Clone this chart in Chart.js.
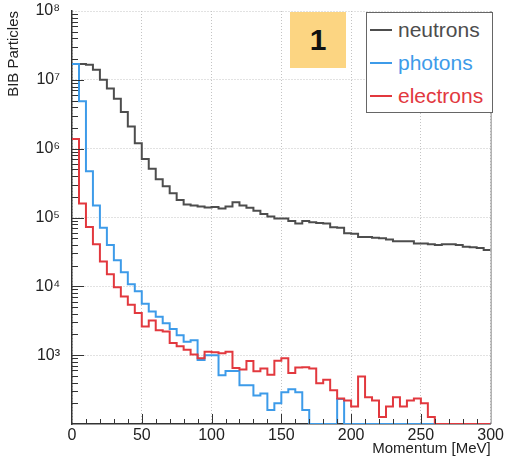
<!DOCTYPE html>
<html>
<head>
<meta charset="utf-8">
<script src="https://cdn.jsdelivr.net/npm/chart.js@4.4.1/dist/chart.umd.min.js"></script>
<style>
  body { margin: 0; background: #fff; }
  #wrap { position: relative; width: 506px; height: 458px; font-family: "Liberation Sans", Arial, sans-serif; }
  #tag { position: absolute; left: 290px; top: 12px; width: 56px; height: 56px; background: #fcd582;
         font-weight: bold; font-size: 30px; color: #111; display: flex; align-items: center; justify-content: center; }
  #legend { position: absolute; left: 366px; top: 12px; width: 127px; height: 101px; box-sizing: border-box;
            border: 1px solid #666; background: #fff; }
  .row { height: 33px; display: flex; align-items: center; padding-left: 3px; font-size: 21px; }
  .swatch { width: 22px; height: 2px; margin-right: 6px; }
</style>
</head>
<body>
<div id="wrap">
  <canvas id="myChart" width="506" height="458"></canvas>
  <div id="tag">1</div>
  <div id="legend"></div>
</div>
<script>
// histogram binning (MeV) and axis ranges
var BIN_WIDTH = 5;
var X_MIN = 0, X_MAX = 300;
var Y_MIN = 1e2, Y_MAX = 1e8;
var X_TICKS = [0, 50, 100, 150, 200, 250, 300];
var Y_TICKS = [1e3, 1e4, 1e5, 1e6, 1e7, 1e8];

var SERIES = ['neutrons', 'photons', 'electrons'];
var COLORS = ['#4d4d4d', '#3d9be9', '#e2383e'];

// counts per 5 MeV bin, 0 = empty bin
var neutrons = [
  1.7e7, 1.7e7, 1.65e7, 1.4e7, 1.0e7, 7.5e6, 5.3e6, 3.4e6, 2.1e6, 1.2e6,
  7.1e5, 5.1e5, 3.6e5, 2.85e5, 2.25e5, 1.8e5, 1.55e5, 1.5e5, 1.45e5, 1.4e5,
  1.42e5, 1.35e5, 1.45e5, 1.67e5, 1.5e5, 1.38e5, 1.25e5, 1.12e5, 1.03e5, 9.7e4,
  9.7e4, 8.9e4, 8.2e4, 8.9e4, 8.5e4, 8.3e4, 8.2e4, 7.2e4, 7.1e4, 5.9e4,
  5.8e4, 5.2e4, 5.2e4, 5.1e4, 5.0e4, 4.8e4, 4.5e4, 4.5e4, 4.5e4, 4.2e4,
  4.2e4, 4.1e4, 4.0e4, 4.1e4, 4.1e4, 4.0e4, 3.75e4, 3.7e4, 3.6e4, 3.36e4
];
var photons = [
  1.7e7, 4.9e6, 4.7e5, 1.5e5, 7.1e4, 4.0e4, 2.4e4, 1.6e4, 1.07e4, 8.5e3,
  5.6e3, 4.3e3, 3.6e3, 2.9e3, 2.4e3, 1.95e3, 1.56e3, 1.65e3, 850, 1000,
  1000, 510, 590, 590, 365, 365, 260, 277, 160, 200,
  290, 320, 290, 160, 0, 0, 0, 0, 230, 0,
  0, 0, 0, 0, 0, 0, 0, 0, 0, 0,
  0, 0, 0, 0, 0, 0, 0, 0, 0, 0
];
var electrons = [
  1.38e6, 1.6e5, 7.3e4, 4.1e4, 2.3e4, 1.5e4, 9.7e3, 7.1e3, 5.4e3, 4.1e3,
  2.6e3, 3.2e3, 2.3e3, 2.2e3, 1.5e3, 1.35e3, 1.2e3, 1020, 900, 1120,
  1100, 1070, 1120, 650, 620, 820, 585, 640, 520, 830,
  900, 550, 660, 670, 640, 390, 440, 310, 235, 220,
  180, 490, 245, 220, 126, 180, 245, 180, 220, 235,
  200, 126, 0, 0, 0, 0, 0, 0, 0, 0
];

var SUP = { '2': '\u00b2', '3': '\u00b3', '4': '\u2074', '5': '\u2075', '6': '\u2076', '7': '\u2077', '8': '\u2078' };

// bin contents -> step points at the low edge of each bin, closed at the last high edge
function toSteps(values) {
  var pts = values.map(function (v, i) {
    return { x: X_MIN + i * BIN_WIDTH, y: v > 0 ? v : Y_MIN };
  });
  pts.push({ x: X_MIN + values.length * BIN_WIDTH, y: pts[pts.length - 1].y });
  return pts;
}

// ROOT style ticks drawn inside the frame, plus the right frame line
var rootFrame = {
  id: 'rootFrame',
  afterDatasetsDraw: function (chart) {
    var ctx = chart.ctx, a = chart.chartArea, x = chart.scales.x, y = chart.scales.y;
    ctx.save();
    ctx.strokeStyle = '#8a8a8a';
    ctx.lineWidth = 1;
    ctx.beginPath();
    ctx.moveTo(a.right + 0.5, a.top);
    ctx.lineTo(a.right + 0.5, a.bottom);
    ctx.stroke();

    ctx.strokeStyle = '#333';
    ctx.beginPath();
    for (var e = 2; e < 8; e++) {
      for (var m = 1; m < 10; m++) {
        var v = m * Math.pow(10, e);
        if (v <= Y_MIN) continue;
        var py = Math.round(y.getPixelForValue(v)) + 0.5;
        ctx.moveTo(a.left, py);
        ctx.lineTo(a.left + (m === 1 ? 12 : 6), py);
      }
    }
    for (var t = X_MIN + 10; t < X_MAX; t += 10) {
      var px = Math.round(x.getPixelForValue(t)) + 0.5;
      ctx.moveTo(px, a.bottom);
      ctx.lineTo(px, a.bottom - (t % 50 === 0 ? 10 : 5));
    }
    ctx.stroke();
    ctx.restore();
  }
};

Chart.defaults.font.family = '"Liberation Sans", Arial, sans-serif';
Chart.defaults.color = '#222';

var allSeries = [neutrons, photons, electrons];
var ctx = document.getElementById('myChart').getContext('2d');
var myChart = new Chart(ctx, {
  type: 'line',
  data: {
    datasets: SERIES.map(function (name, i) {
      return {
        label: name,
        data: toSteps(allSeries[i]),
        borderColor: COLORS[i],
        borderWidth: 2,
        pointRadius: 0,
        stepped: true,
        fill: false,
        order: SERIES.length - i
      };
    })
  },
  options: {
    responsive: false,
    animation: false,
    devicePixelRatio: 1,
    layout: { padding: { top: 11, right: 14, left: 0, bottom: 0 } },
    plugins: { legend: { display: false }, tooltip: { enabled: false } },
    scales: {
      x: {
        type: 'linear',
        min: X_MIN,
        max: X_MAX,
        afterBuildTicks: function (s) { s.ticks = X_TICKS.map(function (v) { return { value: v }; }); },
        afterFit: function (s) { s.height = 34; },
        ticks: { padding: 2, font: { size: 16 }, maxRotation: 0 },
        grid: { color: '#c4c4c4', lineWidth: 1, drawTicks: false },
        border: { color: '#333', width: 1.5, dash: [1, 2] },
        title: { display: true, text: 'Momentum [MeV]', align: 'end', font: { size: 15 }, padding: { top: 0, bottom: 0 } }
      },
      y: {
        type: 'logarithmic',
        min: Y_MIN,
        max: Y_MAX,
        afterBuildTicks: function (s) { s.ticks = Y_TICKS.map(function (v) { return { value: v }; }); },
        afterFit: function (s) { s.width = 72; s.paddingTop = 0; s.paddingBottom = 0; },
        ticks: {
          autoSkip: false,
          padding: 12,
          font: { size: 16 },
          callback: function (value) { return '10' + SUP[String(Math.round(Math.log10(value)))]; }
        },
        grid: { color: '#c4c4c4', lineWidth: 1, drawTicks: false },
        border: { color: '#333', width: 1.5, dash: [1, 2] },
        title: { display: true, text: 'BIB Particles', align: 'end', font: { size: 15 }, padding: { top: 5, bottom: 0 } }
      }
    }
  },
  plugins: [rootFrame]
});

// legend box
var legend = document.getElementById('legend');
SERIES.forEach(function (name, i) {
  var row = document.createElement('div');
  row.className = 'row';
  row.style.color = COLORS[i];
  var sw = document.createElement('span');
  sw.className = 'swatch';
  sw.style.background = COLORS[i];
  row.appendChild(sw);
  row.appendChild(document.createTextNode(name));
  legend.appendChild(row);
});
</script>
</body>
</html>
